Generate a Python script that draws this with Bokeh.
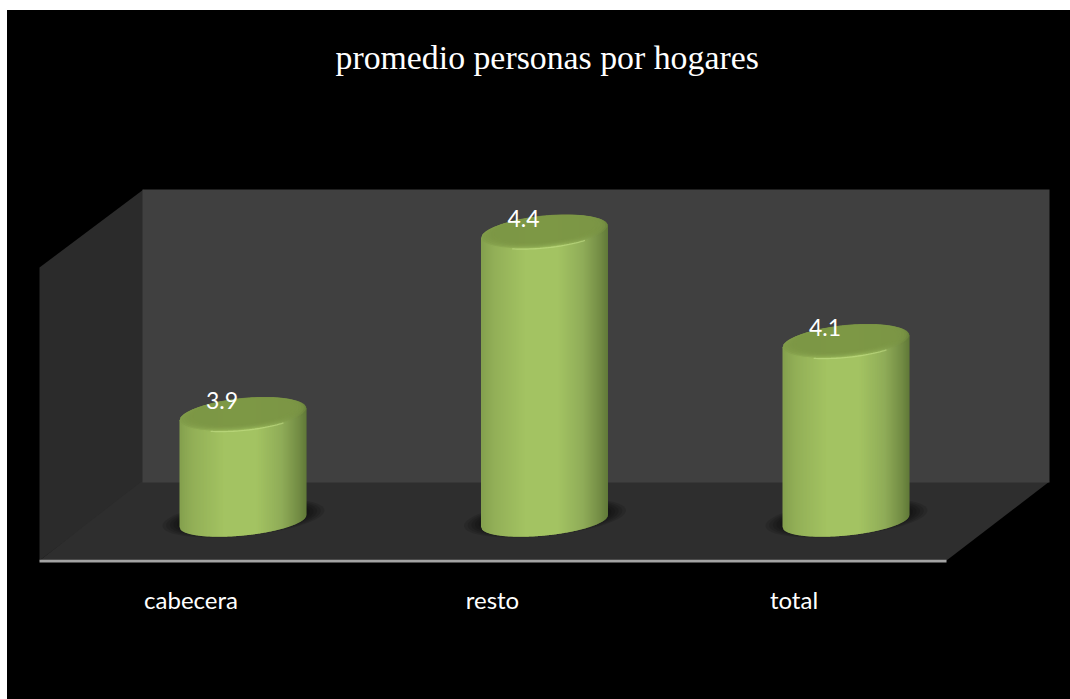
import numpy as np
from bokeh.plotting import figure
from bokeh.models import Range1d, LinearAxis, FixedTicker, Title
from bokeh.core.properties import value
from bokeh.embed import file_html
from bokeh.resources import INLINE

# ---- data
categories = ["cabecera", "resto", "total"]
promedio = [3.9, 4.4, 4.1]
value_labels = ["3.9", "4.4", "4.1"]
chart_title = "promedio personas por hogares"
axis_floor = 3.608

# ---- layout (page pixels)
FRAME_L, FRAME_R, FRAME_T, FRAME_B = 7, 1070, 100, 563
CAT_X0, CAT_STEP = 242.5, 301.5      # px of category 0, px between categories
VAL_Y0, VAL_STEP = 414.0, 365.0      # px of 3.9, px per unit
LABEL_X0 = 190.5

def cat_at(px):
    return (px - CAT_X0) / CAT_STEP
def val_at(px):
    return 3.9 - (px - VAL_Y0) / VAL_STEP

p = figure(frame_width=FRAME_R - FRAME_L, frame_height=FRAME_B - FRAME_T,
           min_border_left=0, min_border_right=0, min_border_top=FRAME_T - 10,
           min_border_bottom=699 - FRAME_B,
           x_range=Range1d(cat_at(FRAME_L), cat_at(FRAME_R)),
           y_range=Range1d(val_at(FRAME_B), val_at(FRAME_T)),
           output_backend="svg", toolbar_location=None,
           background_fill_color="#000000", border_fill_color="#000000",
           outline_line_color=None, margin=(10, 0, 0, 7),
           styles={"background-color": "#000000"})
p.xaxis.visible = False
p.yaxis.visible = False
p.xgrid.visible = False
p.ygrid.visible = False

p.extra_x_ranges = {"px": Range1d(FRAME_L, FRAME_R),
                    "labels": Range1d((FRAME_L - LABEL_X0) / CAT_STEP, (FRAME_R - LABEL_X0) / CAT_STEP)}
p.extra_y_ranges = {"px": Range1d(FRAME_B, FRAME_T)}

# ---- room: left wall, floor, back wall (later ones overlap the seams), axis line
px = dict(x_range_name="px", y_range_name="px")
p.patch([39, 143, 143, 39], [267, 189, 482, 560], fill_color="#2b2b2b", line_color=None, **px)
p.patch([141, 1049, 946, 39], [481, 481, 560, 560], fill_color="#2e2e2e", line_color=None, **px)
p.patch([142, 1049, 1049, 142], [189, 189, 482, 482], fill_color="#404040", line_color=None, **px)
p.patch([39, 946, 946, 39], [559.3, 559.3, 562, 562], fill_color="#a3a3a3", line_color=None, **px)

# ---- cylinders
R = 63.5          # half width, px
SHEAR = 0.095     # rise of the ellipse to the right
B = 16.0          # half height of the cap, px
B_BASE = 14.5     # half height of the base, px
stops_t = [0, 0.10, 0.35, 0.60, 0.80, 0.93, 1]
stops_c = [(0x84, 0xA0, 0x4E), (0x92, 0xAF, 0x57), (0xA3, 0xC3, 0x62), (0xA3, 0xC3, 0x62),
           (0x8F, 0xAC, 0x58), (0x74, 0x8D, 0x45), (0x5F, 0x78, 0x37)]

def grad(t):
    c = [int(round(np.interp(t, stops_t, [s[k] for s in stops_c]))) for k in range(3)]
    return "#%02x%02x%02x" % tuple(c)

def ellipse(i, v, scale=1.0, dy=0.0, rx=R, b=B, n=80):
    t = np.linspace(0, 2 * np.pi, n)
    dx = rx * scale * np.cos(t)
    ypx = -SHEAR * dx - b * scale * np.sin(t) + dy
    return list(i + dx / CAT_STEP), list(v - ypx / VAL_STEP)

def half(d, b):
    return b * np.sqrt(max(0.0, 1 - (d / R) ** 2))

for i, v in enumerate(promedio):
    # soft shadow on the floor
    for k in range(10):
        sc = 1.0 - k * 0.045
        xs, ys = ellipse(i, axis_floor, scale=sc, dy=-3, rx=81, b=18)
        xs = [x + 0.5 / CAT_STEP for x in xs]
        p.patch(xs, ys, fill_color="#000000", fill_alpha=0.12, line_color=None)

    # body and rim of the cap: vertical strips carry the horizontal shading
    edges = np.arange(-R, R + 0.01, 1.0)
    xs_list, ys_list, cols = [], [], []
    xc_list, yc_list = [], []
    for a, b_ in zip(edges[:-1], edges[1:]):
        b2 = min(b_ + 0.6, R)
        x4 = [i + a / CAT_STEP, i + b2 / CAT_STEP, i + b2 / CAT_STEP, i + a / CAT_STEP]
        xs_list.append(x4)
        ys_list.append([axis_floor - (half(a, B_BASE) - SHEAR * a) / VAL_STEP,
                        axis_floor - (half(b2, B_BASE) - SHEAR * b2) / VAL_STEP,
                        v + SHEAR * b2 / VAL_STEP, v + SHEAR * a / VAL_STEP])
        xc_list.append(x4)
        yc_list.append([v - (half(a, B) - SHEAR * a) / VAL_STEP,
                        v - (half(b2, B) - SHEAR * b2) / VAL_STEP,
                        v + (half(b2, B) + SHEAR * b2) / VAL_STEP,
                        v + (half(a, B) + SHEAR * a) / VAL_STEP])
        cols.append(grad((a + R) / (2 * R)))
    p.patches(xs_list, ys_list, fill_color=cols, line_color=None)
    p.patches(xc_list, yc_list, fill_color=cols, line_color=None)

    # dished centre of the cap, fading in from the rim
    for sc, dy in [(0.99, -0.6), (0.96, -1.2), (0.92, -1.8), (0.88, -2.2), (0.84, -2.5), (0.79, -2.8)]:
        xs, ys = ellipse(i, v, scale=sc, dy=dy)
        p.patch(xs, ys, fill_color="#7b9546", fill_alpha=0.42, line_color=None)

    # bright front rim of the cap
    t = np.linspace(np.pi * 1.33, np.pi * 1.72, 30)
    dx = R * np.cos(t)
    p.line(list(i + dx / CAT_STEP), list(v - (-SHEAR * dx - B * np.sin(t)) / VAL_STEP),
           line_color="#c6e28a", line_width=1.3, line_alpha=0.55)

# ---- value labels
p.text(list(range(3)), promedio, text=value_labels, text_color="#ffffff",
       text_font=value("Lato"), text_font_size="23px", text_align="center",
       text_baseline="middle", x_offset=-21, y_offset=-14)

# ---- category axis
ax = LinearAxis(x_range_name="labels", ticker=FixedTicker(ticks=[0, 1, 2]),
                major_label_overrides={k: c for k, c in enumerate(categories)})
ax.axis_line_color = None
ax.major_tick_line_color = None
ax.minor_tick_line_color = None
ax.major_label_text_color = "#ffffff"
ax.major_label_text_font = "Lato"
ax.major_label_text_font_size = "24px"
ax.major_label_standoff = 15
p.add_layout(ax, "below")

# ---- title
p.title = Title(text=chart_title, text_color="#ffffff", text_font="Liberation Serif",
                text_font_size="33.8px", text_font_style="normal", align="left",
                offset=328, standoff=46, vertical_align="top")

open("out.html", "w").write(file_html(p, INLINE))
